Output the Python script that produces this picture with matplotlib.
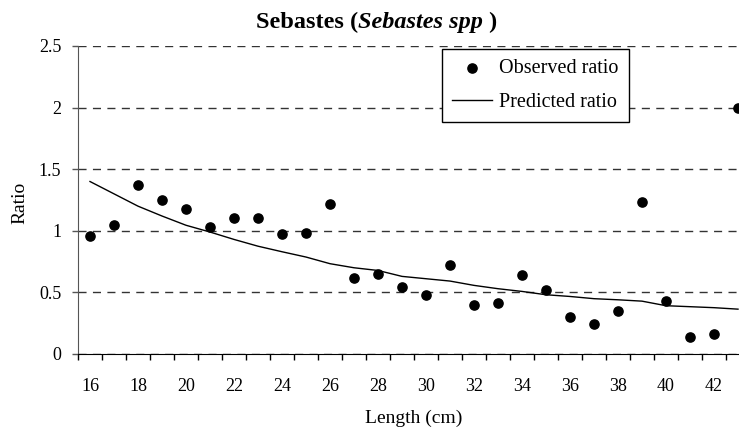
import matplotlib
matplotlib.use("Agg")
import matplotlib.pyplot as plt
from matplotlib.ticker import FixedLocator, FuncFormatter

lengths = list(range(16, 44))
observed = [0.96, 1.05, 1.37, 1.25, 1.18, 1.03, 1.10, 1.10, 0.97, 0.98,
            1.22, 0.62, 0.65, 0.54, 0.48, 0.72, 0.40, 0.41, 0.64, 0.52,
            0.30, 0.24, 0.35, 1.23, 0.43, 0.14, 0.16, 2.00]
predicted = [1.40, 1.30, 1.20, 1.12, 1.045, 0.99, 0.93, 0.875, 0.83, 0.787,
             0.733, 0.70, 0.678, 0.63, 0.611, 0.592, 0.557, 0.53, 0.508, 0.481,
             0.467, 0.449, 0.44, 0.429, 0.392, 0.384, 0.376, 0.364]
x_labels = list(range(16, 43, 2))
y_ticks = [0, 0.5, 1, 1.5, 2, 2.5]

plt.rcParams['font.family'] = ['Liberation Serif', 'DejaVu Serif']
plt.rcParams['lines.scale_dashes'] = False

W, H = 739, 432
fig = plt.figure(figsize=(W / 100, H / 100), dpi=100)
# plot area runs past the right edge, like the cropped original
ax = fig.add_axes([78 / W, 1 - 354 / H, 672 / W, 308 / H])

ax.scatter(lengths, observed, s=44, color='black', zorder=3, label='Observed ratio')
ax.plot(lengths, predicted, color='black', lw=1.0, zorder=2, label='Predicted ratio')

ax.set_xlim(15.5, 43.5)
ax.set_ylim(0, 2.5)
ax.set_yticks(y_ticks)
ax.yaxis.set_major_formatter(FuncFormatter(lambda v, p: f"{v:g}"))
ax.yaxis.grid(True, color='#333333', lw=1.0, linestyle=(0, (5.8, 4.6)))
ax.set_axisbelow(True)

ax.xaxis.set_major_locator(FixedLocator(x_labels))
ax.xaxis.set_minor_locator(FixedLocator([v + 0.5 for v in range(15, 44)]))
ax.tick_params(axis='x', which='major', length=0, pad=17, labelsize=13)
ax.tick_params(axis='x', which='minor', length=4.3, width=1, color='black', direction='out')
ax.tick_params(axis='y', length=4, width=1, color='#555555', pad=8, labelsize=13)

for s in ['top', 'right']:
    ax.spines[s].set_visible(False)
ax.spines['left'].set_color('#555555')
ax.spines['bottom'].set_color('black')

fig.text(414 / W, 1 - 418 / H, 'Length (cm)', ha='center', va='center', fontsize=14)
fig.text(20 / W, 1 - 203 / H, 'Ratio', ha='center', va='center', rotation=90, fontsize=14)

# title with mixed bold / bold italic parts
t1 = fig.text(256 / W, 1 - 28 / H, 'Sebastes (', fontsize=17.5, fontweight='bold', ha='left', va='baseline')
t2 = fig.text(0, 0, 'Sebastes spp', fontsize=17.5, fontweight='bold', fontstyle='italic')
t3 = fig.text(0, 0, ' )', fontsize=17.5, fontweight='bold')
fig.canvas.draw()
r = fig.canvas.get_renderer()
inv = fig.transFigure.inverted()
b1 = t1.get_window_extent(r)
t2.set_position(inv.transform((b1.x1, b1.y0)))
t2.set_va('bottom')
b2 = t2.get_window_extent(r)
t3.set_position(inv.transform((b2.x1, b2.y0)))
t3.set_va('bottom')

leg = fig.legend(loc='upper left', bbox_to_anchor=(441.7 / W, 1 - 49 / H), borderaxespad=0,
                 fontsize=14.5, frameon=True, fancybox=False, framealpha=1, edgecolor='black',
                 handlelength=2.0, handletextpad=0.35, labelspacing=0.75, borderpad=0.5)
leg.get_frame().set_linewidth(1.0)

fig.savefig('out.png', dpi=100)
